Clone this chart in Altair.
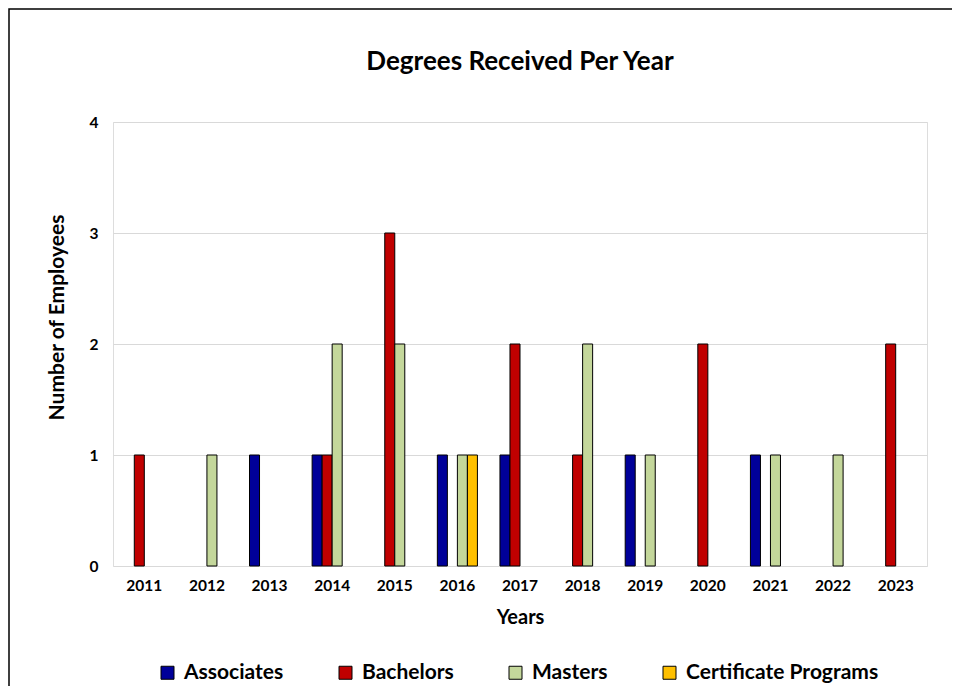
import altair as alt
import pandas as pd

years = ["2011", "2012", "2013", "2014", "2015", "2016", "2017",
         "2018", "2019", "2020", "2021", "2022", "2023"]
series = ["Associates", "Bachelors", "Masters", "Certificate Programs"]
associates = [0, 0, 1, 1, 0, 1, 1, 0, 1, 0, 1, 0, 0]
bachelors = [1, 0, 0, 1, 3, 0, 2, 1, 0, 2, 0, 0, 2]
masters = [0, 1, 0, 2, 2, 1, 0, 2, 1, 0, 1, 1, 0]
certificate = [0, 0, 0, 0, 0, 1, 0, 0, 0, 0, 0, 0, 0]
colors = ["#000099", "#C00000", "#C4D79B", "#FFC000"]
title_text = "Degrees Received Per Year"

rows = []
for name, vals in zip(series, [associates, bachelors, masters, certificate]):
    for y, v in zip(years, vals):
        if v > 0:
            rows.append({"Year": y, "Degree": name, "Count": v})
df = pd.DataFrame(rows)

FONT = "Lato"
W, H = 814, 444

bars = alt.Chart(df).mark_bar(stroke="#000000", strokeWidth=1).encode(
    x=alt.X("Year:N", sort=years,
            scale=alt.Scale(domain=years, paddingInner=0.36, paddingOuter=0.18),
            axis=alt.Axis(title="Years", labelAngle=0, ticks=False, domain=False,
                          labelPadding=12, labelFontSize=15.5, labelFontWeight="bold",
                          labelColor="#000000", titleFontSize=20, titleFontWeight="bold",
                          titleColor="#000000", titlePadding=14, labelFont=FONT,
                          titleFont=FONT)),
    xOffset=alt.XOffset("Degree:N", sort=series,
                        scale=alt.Scale(domain=series, paddingInner=0, paddingOuter=0)),
    y=alt.Y("Count:Q",
            scale=alt.Scale(domain=[0, 4], nice=False),
            axis=alt.Axis(title="Number of Employees", values=[0, 1, 2, 3, 4],
                          ticks=False, domain=False, grid=True, gridColor="#d9d9d9",
                          gridWidth=1, labelPadding=15, labelFontSize=15.5,
                          labelFontWeight="bold", labelColor="#000000",
                          titleFontSize=21, titleFontWeight="bold", titleColor="#000000",
                          titleX=-56, titleY=195, titleBaseline="middle",
                          titleAlign="center", labelFont=FONT, titleFont=FONT)),
    color=alt.Color("Degree:N", sort=series,
                    scale=alt.Scale(domain=series, range=colors),
                    legend=alt.Legend(title=None, orient="none", direction="horizontal",
                                      legendX=44, legendY=540, columns=4,
                                      symbolType="square", symbolSize=169,
                                      symbolStrokeColor="#000000", symbolStrokeWidth=1,
                                      symbolOpacity=1, labelLimit=400,
                                      labelFontSize=21, labelFontWeight="bold",
                                      labelColor="#000000", labelFont=FONT,
                                      labelOffset=6, columnPadding=51)),
)

frame = alt.Chart(alt.Data(values=[{}])).mark_rect(
    fill=None, stroke="#000000", strokeWidth=1.5, clip=False
).encode(
    x=alt.value(-104), x2=alt.value(W + 60),
    y=alt.value(-113), y2=alt.value(H + 200),
)

title = alt.Chart(alt.Data(values=[{"t": title_text}])).mark_text(
    font=FONT, fontSize=26, fontWeight="bold", color="#000000",
    align="center", baseline="middle", clip=False
).encode(
    text="t:N", x=alt.value(W / 2), y=alt.value(-60),
)

chart = alt.layer(frame, bars, title).properties(
    width=W, height=H,
    autosize=alt.AutoSizeParams(type="none"),
    padding={"left": 105, "top": 114, "right": 25, "bottom": 120},
).configure_view(stroke="#000000", strokeWidth=1.5).configure(background="white")

chart.save("out.html", embed_options={"renderer": "svg", "actions": False})
